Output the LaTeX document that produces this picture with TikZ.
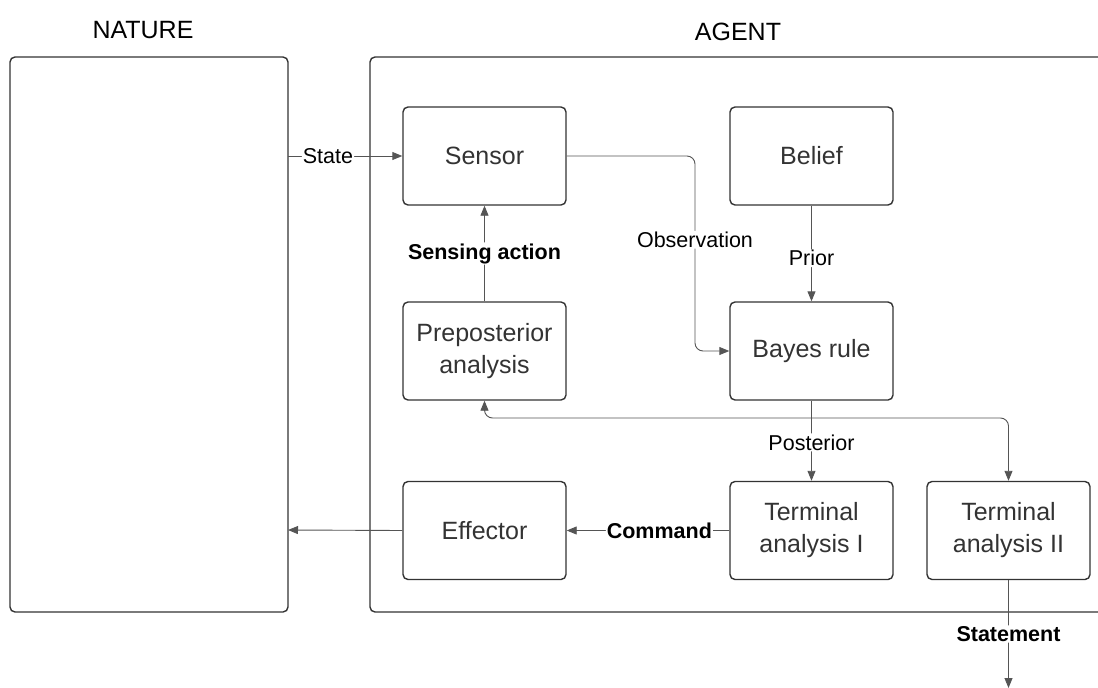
\documentclass[tikz,border=0pt]{standalone}
\usepackage{fontspec}
\setmainfont{Liberation Sans}
\usetikzlibrary{arrows.meta}
\definecolor{boxc}{HTML}{333333}
\definecolor{linec}{HTML}{555555}
\begin{document}
\begin{tikzpicture}[x=1pt,y=-1pt,
  blk/.style={draw=boxc,line width=1.4pt,rounded corners=5pt,minimum width=163pt,minimum height=98pt,align=center,font=\fontsize{25}{32}\selectfont,text=boxc,inner sep=0pt},
  big/.style={draw=boxc,line width=1.4pt,rounded corners=5pt},
  conn/.style={draw=linec,line width=0.9pt,rounded corners=8pt,-{Triangle[length=10pt,width=8pt]}},
  lbl/.style={fill=white,inner sep=1pt,font=\fontsize{21.5}{24}\selectfont,text=black},
  blbl/.style={lbl,font=\fontsize{21.5}{24}\selectfont\bfseries},
  ttl/.style={font=\fontsize{25}{28}\selectfont,text=black}]
\useasboundingbox (0,0) rectangle (1098,688);
\draw[big] (10,57) rectangle (288,612);
\draw[big] (370,57) rectangle (1120,612);
\node[ttl] (natt) at (143,30) {NATURE};
\node[ttl] (agt) at (738,32) {AGENT};
\coordinate (natS) at (288,156);
\coordinate (natE) at (288,530);
\node[blk] (sensor) at (484.5,156) {Sensor};
\node[blk] (belief) at (811.5,156) {Belief};
\node[blk] (prepo) at (484.5,351) {Preposterior\\analysis};
\node[blk] (bayes) at (811.5,351) {Bayes rule};
\node[blk] (eff) at (484.5,530.5) {Effector};
\node[blk] (t1) at (811.5,530.5) {Terminal\\analysis I};
\node[blk] (t2) at (1008.5,530.5) {Terminal\\analysis II};
\coordinate (junc) at (811.5,418);
\coordinate (stmt) at (1008.5,688);
\draw[conn] (natS) -- node[lbl,pos=0.35] {State} (sensor.west);
\draw[conn] (sensor.east) -- (695,156) -- node[lbl,pos=0.43] {Observation} (695,351) -- (bayes.west);
\draw[conn] (belief.south) -- node[lbl,pos=0.55] {Prior} (bayes.north);
\draw[conn] (prepo.north) -- node[blbl,pos=0.5] {Sensing action} (sensor.south);
\draw[conn] (bayes.south) -- node[lbl,pos=0.52] {Posterior} (t1.north);
\draw[conn] (junc) -- (484.5,418) -- (prepo.south);
\draw[conn] (junc) -- (1008.5,418) -- (t2.north);
\draw[conn] (t1.west) -- node[blbl,pos=0.43] {Command} (eff.east);
\draw[conn] (eff.west) -- (natE);
\draw[conn] (t2.south) -- node[blbl,pos=0.5] {Statement} (stmt);
\end{tikzpicture}
\end{document}
